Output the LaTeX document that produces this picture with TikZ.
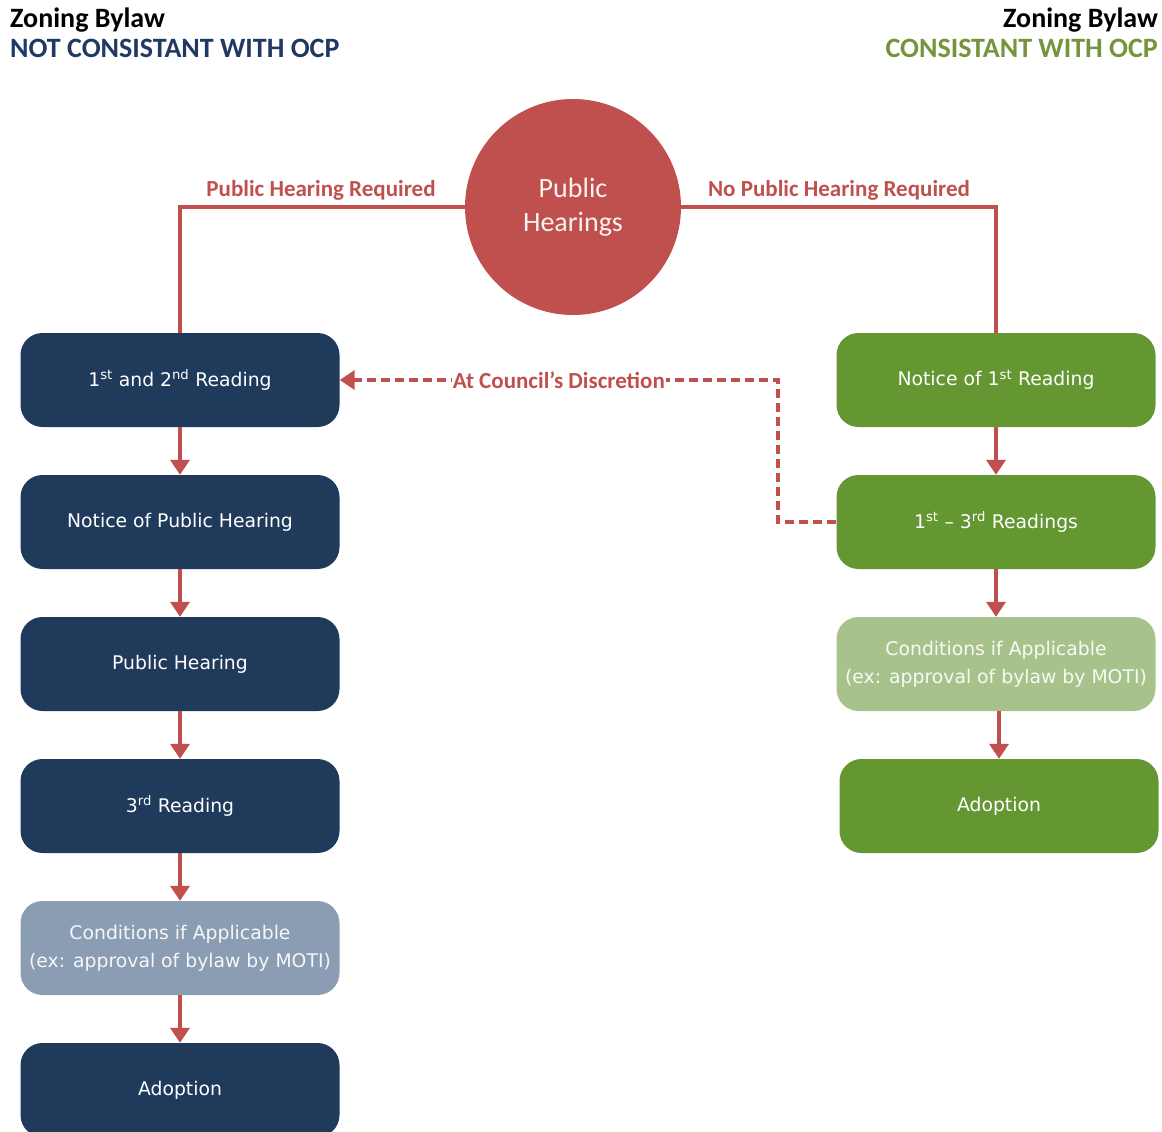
\documentclass[tikz,border=0pt]{standalone}
\usepackage{fontspec}
\setmainfont{Carlito}
\newfontfamily\boxfont{DejaVu Sans}
\usetikzlibrary{arrows.meta}
\definecolor{navy}{HTML}{1F3A5B}
\definecolor{grn}{HTML}{649632}
\definecolor{lgrn}{HTML}{A8C28C}
\definecolor{gblue}{HTML}{8B9DB3}
\definecolor{redline}{HTML}{C0504D}
\definecolor{headblue}{HTML}{1F3864}
\definecolor{headgreen}{HTML}{77933C}
\tikzset{
  basebox/.style={rectangle, rounded corners=22pt, minimum width=319pt, minimum height=94pt,
    inner sep=0pt, align=center, text=white, font=\boxfont\fontsize{18.8}{28}\selectfont},
  navybox/.style={basebox, fill=navy},
  greenbox/.style={basebox, fill=grn},
  lightgreenbox/.style={basebox, fill=lgrn, text=white!92!lgrn},
  greybox/.style={basebox, fill=gblue, text=white!92!gblue},
  flow/.style={draw=redline, line width=4pt, -{Triangle[length=15pt,width=19pt]}},
  joinline/.style={draw=redline, line width=4pt},
  dashline/.style={draw=redline, line width=4.5pt, dash pattern=on 9pt off 5pt,
    -{Triangle[length=15pt,width=19pt]}},
  redlabel/.style={text=redline, font=\bfseries\fontsize{23}{26}\selectfont, inner sep=1pt},
  heading/.style={font=\bfseries\fontsize{28}{30}\selectfont, inner sep=0pt},
}
\begin{document}
\begin{tikzpicture}[x=1pt,y=-1pt]
\useasboundingbox (0,0) rectangle (1162,1132);
\clip (0,0) rectangle (1162,1132);

% headings
\node[heading, anchor=base west] (hl1) at (10,28) {Zoning Bylaw};
\node[heading, anchor=base west, text=headblue] (hl2) at (10,58) {NOT CONSISTANT WITH OCP};
\node[heading, anchor=base east] (hr1) at (1158,28) {Zoning Bylaw};
\node[heading, anchor=base east, text=headgreen] (hr2) at (1158,58) {CONSISTANT WITH OCP};

% circle
\node[circle, fill=redline, minimum size=216pt, inner sep=0pt, align=center,
  text=white!92!redline, font=\fontsize{28}{34}\selectfont] (ph) at (573,207) {Public\\Hearings};

% left column
\node[navybox] (l1) at (180,380) {1\textsuperscript{st} and 2\textsuperscript{nd} Reading};
\node[navybox] (l2) at (180,522) {Notice of Public Hearing};
\node[navybox] (l3) at (180,664) {Public Hearing};
\node[navybox] (l4) at (180,806) {3\textsuperscript{rd} Reading};
\node[greybox] (l5) at (180,948) {Conditions if Applicable\\(ex: approval of bylaw by MOTI)};
\node[navybox] (l6) at (180,1090) {Adoption};

% right column
\node[greenbox] (r1) at (996,380) {Notice of 1\textsuperscript{st} Reading};
\node[greenbox] (r2) at (996,522) {1\textsuperscript{st} \textendash{} 3\textsuperscript{rd} Readings};
\node[lightgreenbox] (r3) at (996,664) {Conditions if Applicable\\(ex: approval of bylaw by MOTI)};
\node[greenbox] (r4) at (999,806) {Adoption};

% connections from circle
\draw[joinline] (ph.west) -| (l1.north);
\draw[joinline] (ph.east) -| (r1.north);
\node[redlabel] (lblL) at (321,190) {Public Hearing Required};
\node[redlabel] (lblR) at (839,190) {No Public Hearing Required};

% flow arrows
\draw[flow] (l1.south) -- (l2.north);
\draw[flow] (l2.south) -- (l3.north);
\draw[flow] (l3.south) -- (l4.north);
\draw[flow] (l4.south) -- (l5.north);
\draw[flow] (l5.south) -- (l6.north);
\draw[flow] (r1.south) -- (r2.north);
\draw[flow] (r2.south) -- (r3.north);
\draw[flow] (r3.south -| r4.north) -- (r4.north);

% dashed discretion link
\coordinate (bend) at (778,522);
\draw[dashline] (r2.west) -- (bend) |- (l1.east)
  node[pos=0.75, fill=white, redlabel] (disc) {At Council’s Discretion};
\end{tikzpicture}
\end{document}
